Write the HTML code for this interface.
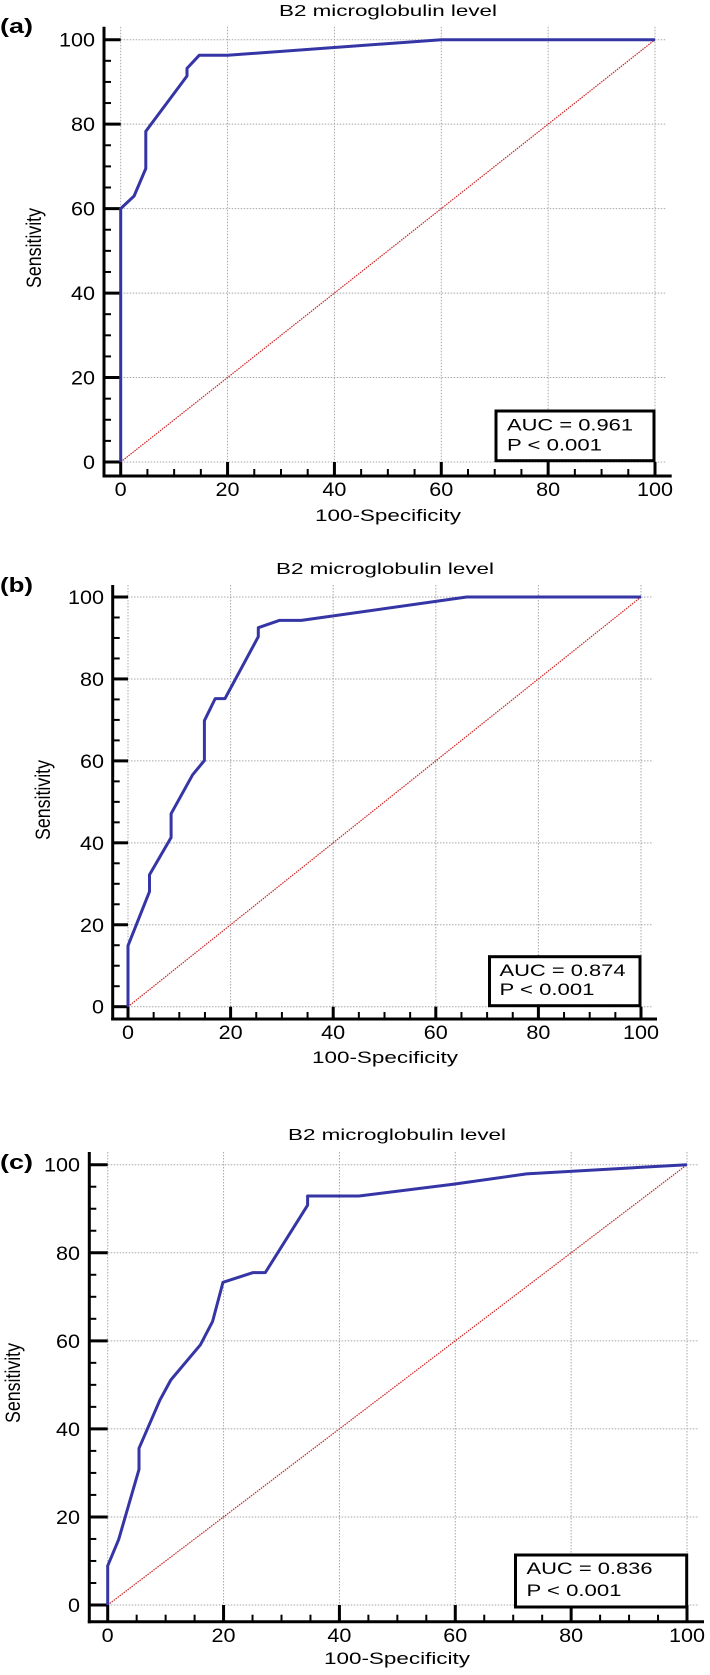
<!DOCTYPE html>
<html><head><meta charset="utf-8"><style>
html,body{margin:0;padding:0;background:#fff;}
svg{display:block;font-family:"Liberation Sans",Arial,sans-serif;}
</style></head><body>
<svg id="fig" width="710" height="1675" viewBox="0 0 710 1675" xmlns="http://www.w3.org/2000/svg"></svg>
<script>
// ---- data ----
const aX = [0,0,2.5,4.7,4.7,12.4,12.4,14.7,20,60,100];
const aY = [0,60,63,69.5,78.3,91.4,93.2,96.3,96.3,100,100];
const bX = [0,0,4.2,4.2,8.4,8.4,12.6,14.9,14.9,17,18.9,25.4,25.4,29.5,33.8,66,100];
const bY = [0,14.9,28.1,32.2,41.3,47.1,56.6,60.1,69.8,75.2,75.2,90.3,92.5,94.3,94.3,100,100];
const cX = [0,0,1.9,5.4,5.4,9,10.9,16,18.1,19.9,25.1,27.2,34.5,34.5,43.4,59.8,72.3,100];
const cY = [0,8.9,14.9,30.8,35.6,46.5,51.1,59.1,64.4,73.3,75.5,75.5,90.8,92.9,92.9,95.6,97.9,100];
const tickVals = [0,20,40,60,80,100];
const tickLabels = ["0","20","40","60","80","100"];
const minorVals = [5,10,15,25,30,35,45,50,55,65,70,75,85,90,95];
const aucLabels = ["AUC = 0.961","AUC = 0.874","AUC = 0.836"];
const pLabels = ["P < 0.001","P < 0.001","P < 0.001"];
const panelLabels = ["(a)","(b)","(c)"];

const NS = "http://www.w3.org/2000/svg";
const svg = document.getElementById('fig');
function mk(tag, attrs, parent, txt){
  const e = document.createElementNS(NS, tag);
  for (const k in attrs) e.setAttribute(k, attrs[k]);
  if (txt !== undefined) e.textContent = txt;
  (parent||svg).appendChild(e);
  return e;
}
const panels = [
  {xs:aX, ys:aY, axX:104, x0:120.7, x100:655, y100:39.7, y0:462, axY:476, top:26.7, right:671.7, yLabR:95,
   title:[388,16], xt:[388,521], st:[35,248], lab:[26,33], leg:[496,411,654,460.7], legT:[507,430.7,450.7], xlabY:496},
  {xs:bX, ys:bY, axX:112.7, x0:128, x100:641, y100:597, y0:1006.7, axY:1019, top:585, right:657, yLabR:104,
   title:[385,574], xt:[385,1063], st:[44,800], lab:[585,33], leg:[489.5,956.7,640,1005.7], legT:[499.5,976,995], xlabY:1039},
  {xs:cX, ys:cY, axX:89.3, x0:107.7, x100:687, y100:1164.7, y0:1605, axY:1621.7, top:1152, right:704, yLabR:80,
   title:[397,1140], xt:[397,1664], st:[14,1383], lab:[1162,33], leg:[515.5,1555,686.7,1607], legT:[526.5,1574,1596], xlabY:1642}
];
panels.forEach((p, i) => {
  const g = mk('g', {});
  
  
  const sx = v => p.x0 + v/100*(p.x100-p.x0);
  const sy = v => p.y0 - v/100*(p.y0-p.y100);
  tickVals.forEach(v => {
    const gl = mk('line', {x1:p.x0, x2:p.right-5, y1:sy(v), y2:sy(v), stroke:'#a8a8a8', 'stroke-width':1, 'stroke-dasharray':'1.5,1.5'}, g);
    
    
    const vl = mk('line', {x1:sx(v), x2:sx(v), y1:p.top, y2:p.y0, stroke:'#a8a8a8', 'stroke-width':1, 'stroke-dasharray':'1.5,1.5'}, g);
    
    
  });
  const d = mk('line', {x1:sx(0), y1:sy(0), x2:sx(100), y2:sy(100), stroke:'#cc2222', 'stroke-width':1.2, 'stroke-dasharray':'1.5,1'}, g);
  
  
  const ya = mk('line', {x1:p.axX, x2:p.axX, y1:p.top, y2:p.axY+1.5, stroke:'#000', 'stroke-width':3}, g);
  
  
  const xa = mk('line', {x1:p.axX-1.5, x2:p.right, y1:p.axY, y2:p.axY, stroke:'#000', 'stroke-width':3}, g);
  
  
  tickVals.forEach((v, k) => {
    const t1 = mk('line', {x1:p.axX, x2:p.x0, y1:sy(v), y2:sy(v), stroke:'#000', 'stroke-width':3}, g);
    
    
    const t2 = mk('line', {x1:sx(v), x2:sx(v), y1:p.axY, y2:p.y0, stroke:'#000', 'stroke-width':3}, g);
    
    
    const yl = mk('text', {x:p.yLabR, y:sy(v)+7, 'text-anchor':'end', 'font-size':19, textLength:tickLabels[k].length*12, lengthAdjust:'spacingAndGlyphs'}, g, tickLabels[k]);
    
    
    const xl = mk('text', {x:sx(v), y:p.xlabY, 'text-anchor':'middle', 'font-size':19, textLength:tickLabels[k].length*12, lengthAdjust:'spacingAndGlyphs'}, g, tickLabels[k]);
    
    
  });
  minorVals.forEach(v => {
    const m1 = mk('line', {x1:p.axX, x2:p.axX+7, y1:sy(v), y2:sy(v), stroke:'#000', 'stroke-width':2}, g);
    
    
    const m2 = mk('line', {x1:sx(v), x2:sx(v), y1:p.axY, y2:p.axY-7, stroke:'#000', 'stroke-width':2}, g);
    
    
  });
  const pts = p.xs.map((x, k) => sx(x).toFixed(1) + ',' + sy(p.ys[k]).toFixed(1)).join(' ');
  const c = mk('polyline', {points:pts, fill:'none', stroke:'#3535a5', 'stroke-width':3, 'stroke-linejoin':'round'}, g);
  
  
  const L = p.leg;
  const lb = mk('rect', {x:L[0], y:L[1], width:L[2]-L[0], height:L[3]-L[1], fill:'#fff', stroke:'#000', 'stroke-width':3}, g);
  
  
  const a1 = mk('text', {x:p.legT[0], y:p.legT[1], 'font-size':17, textLength:126, lengthAdjust:'spacingAndGlyphs'}, g, aucLabels[i]);
  
  
  const a2 = mk('text', {x:p.legT[0], y:p.legT[2], 'font-size':17, textLength:95, lengthAdjust:'spacingAndGlyphs'}, g, pLabels[i]);
  
  
  const ti = mk('text', {x:p.title[0], y:p.title[1], 'text-anchor':'middle', 'font-size':16, textLength:218, lengthAdjust:'spacingAndGlyphs'}, g, 'B2 microglobulin level');
  
  
  const xt = mk('text', {x:p.xt[0], y:p.xt[1], 'text-anchor':'middle', 'font-size':17, textLength:146, lengthAdjust:'spacingAndGlyphs'}, g, '100-Specificity');
  
  
  const st = mk('text', {x:0, y:0, 'text-anchor':'middle', 'font-size':17, textLength:80, lengthAdjust:'spacingAndGlyphs', transform:'translate(' + (p.st[0]+6) + ',' + p.st[1] + ') rotate(-90) scale(1,1.25)'}, g, 'Sensitivity');
  
  
  const pl = mk('text', {x:0, y:p.lab[0]+7, 'font-size':20, 'font-weight':'bold', textLength:p.lab[1], lengthAdjust:'spacingAndGlyphs'}, g, panelLabels[i]);
  
  
});
</script>
</body></html>
